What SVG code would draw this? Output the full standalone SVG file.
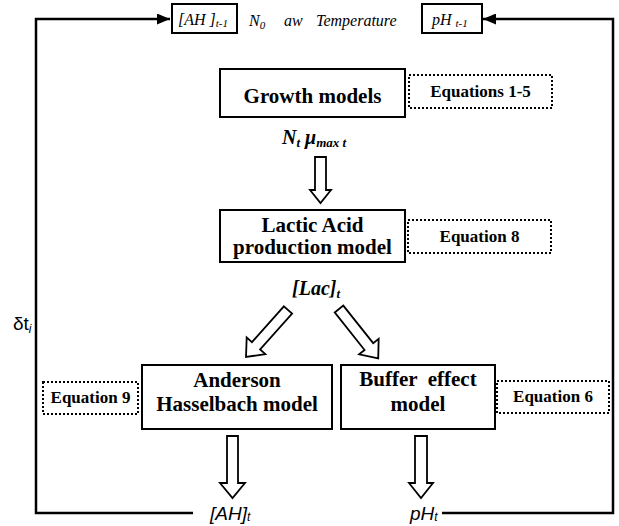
<svg xmlns="http://www.w3.org/2000/svg" width="619" height="526" viewBox="0 0 619 526">
<style>
.box{fill:#fff;stroke:#000;stroke-width:2}
.dot{fill:none;stroke:#000;stroke-width:2;stroke-dasharray:2 2}
.line{fill:none;stroke:#000;stroke-width:2.5}
.hol{fill:#fff;stroke:#000;stroke-width:1.8;stroke-linejoin:miter}
.bt{font-weight:bold;font-size:21px;text-anchor:middle;fill:#000}
.eq{font-weight:bold;font-size:17px;text-anchor:middle;fill:#000}
.it{font-style:italic;font-size:16px;fill:#000}
.bi{font-style:italic;font-weight:bold;font-size:20px;fill:#000}
.sa{font-size:19px;fill:#000}
</style>
<defs>
<marker id="ah" markerUnits="userSpaceOnUse" markerWidth="13" markerHeight="11" refX="13" refY="5.5" orient="auto">
<path d="M0,0 L13,5.5 L0,11 Z" fill="#000"/>
</marker>
</defs>
<rect width="619" height="526" fill="#fff"/>

<g id="connectors">
<path class="line" d="M193,513 H36 V19 H170" marker-end="url(#ah)"/>
<path class="line" d="M442,513 H613 V19 H483" marker-end="url(#ah)"/>
<path class="hol" d="M315,157 H326 V190 H331 L320.5,203 L310,190 H315 Z"/>
<path class="hol" transform="translate(288,310) rotate(41.8)" d="M-5.5,0 H5.5 V48 H12.5 L0,63 L-12.5,48 H-5.5 Z"/>
<path class="hol" transform="translate(339,309) rotate(-38.5)" d="M-5.5,0 H5.5 V48 H12.5 L0,63 L-12.5,48 H-5.5 Z"/>
<path class="hol" d="M227,436 H238 V483 H245 L232.5,498 L220,483 H227 Z"/>
<path class="hol" d="M415,436 H427 V483 H433 L421,498 L409,483 H415 Z"/>
</g>

<g font-family="'Liberation Serif', 'Times New Roman', Times, serif">
<g id="input-AH">
<rect class="box" x="172" y="4" width="65" height="29"/>
<text class="it" x="178" y="25">[AH ]<tspan font-size="11" dy="2">t-1</tspan></text>
</g>
<g id="inputs">
<text class="it" x="249" y="26" font-size="17">N<tspan font-size="11" dy="3">0</tspan></text>
<text class="it" x="284" y="26" font-size="17">aw</text>
<text class="it" x="316" y="26" font-size="17">Temperature</text>
</g>
<g id="input-pH">
<rect class="box" x="422" y="4" width="60" height="29"/>
<text class="it" x="432" y="25" font-size="17">pH <tspan font-size="11" dy="2">t-1</tspan></text>
</g>

<g id="growth">
<rect class="box" x="220" y="69" width="185" height="48"/>
<text class="bt" x="312.5" y="103">Growth models</text>
</g>
<g id="eq1-5">
<rect class="dot" x="409" y="75" width="143" height="33"/>
<text class="eq" x="480.5" y="97">Equations 1-5</text>
</g>
<g id="growth-out">
<text class="bi" x="282" y="144">N<tspan font-size="13" dy="3">t</tspan><tspan dy="-3"> μ</tspan><tspan font-size="13" dy="3">max t</tspan></text>
</g>

<g id="lactic">
<rect class="box" x="220" y="210" width="185" height="52"/>
<text class="bt" x="312.5" y="232">Lactic Acid</text>
<text class="bt" x="312.5" y="254">production model</text>
</g>
<g id="eq8">
<rect class="dot" x="408" y="220" width="143" height="33"/>
<text class="eq" x="479.5" y="242">Equation 8</text>
</g>
<g id="lac-out">
<text class="bi" x="292" y="295" font-size="19">[Lac]<tspan font-size="13" dy="3">t</tspan></text>
</g>

<g id="anderson">
<rect class="box" x="142" y="365" width="190" height="64"/>
<text class="bt" x="237" y="387">Anderson</text>
<text class="bt" x="237" y="411">Hasselbach model</text>
</g>
<g id="eq9">
<rect class="dot" x="43" y="382" width="95" height="32"/>
<text class="eq" x="90.5" y="403">Equation 9</text>
</g>
<g id="buffer">
<rect class="box" x="341" y="365" width="154" height="64"/>
<text class="bt" x="418" y="386" xml:space="preserve">Buffer  effect</text>
<text class="bt" x="418" y="411">model</text>
</g>
<g id="eq6">
<rect class="dot" x="497" y="381" width="112" height="32"/>
<text class="eq" x="553" y="402">Equation 6</text>
</g>
</g>

<g font-family="'Liberation Sans', Arial, Helvetica, sans-serif">
<g id="dt">
<text class="sa" x="13" y="330" font-size="18">δt<tspan font-style="italic" font-size="12" dy="3">i</tspan></text>
</g>
<g id="AH-out">
<text class="sa" x="210" y="520" font-style="italic">[AH]<tspan font-size="12" dy="1">t</tspan></text>
</g>
<g id="pH-out">
<text class="sa" x="410" y="520" font-style="italic">pH<tspan font-size="12" dy="1">t</tspan></text>
</g>
</g>
</svg>
